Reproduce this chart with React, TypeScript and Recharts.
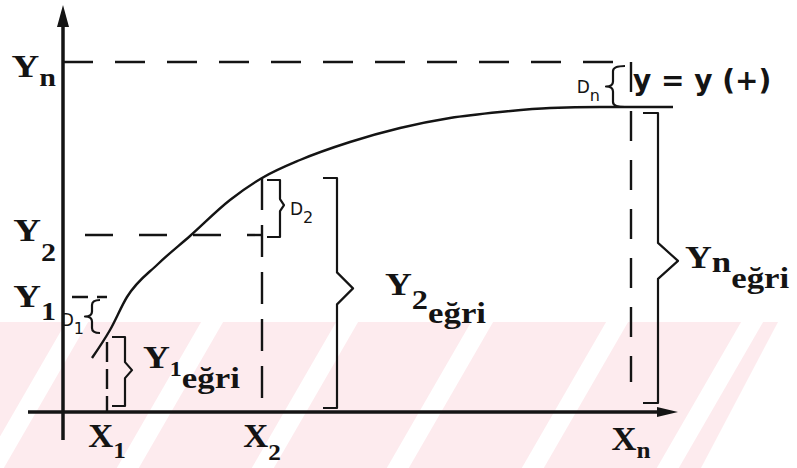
import React from "react";
import {
  ComposedChart,
  Line,
  XAxis,
  YAxis,
  ReferenceLine,
  ReferenceArea,
  ReferenceDot,
} from "recharts";

// ---------------- data ----------------
// the curve ("eğri")
const curveX = [2.9, 4.7, 6.4, 9.5, 12.7, 16.7, 19.9, 23.7, 28.7, 33.7, 38.7, 43.7, 48.7, 53.7, 57.0, 61.0];
const curveY = [5.4, 8.2, 11.5, 14.8, 17.6, 21.2, 23.4, 25.2, 27.0, 28.4, 29.4, 30.0, 30.4, 30.5, 30.5, 30.5];
// X ticks: X1, X2, Xn
const xTickValues = [4.4, 19.9, 56.8];
const xTickSubs = ["1", "2", "n"];
// Y ticks: Y1, Y2, Yn
const yTickValues = [11.5, 17.7, 35.0];
const yTickSubs = ["1", "2", "n"];
// curve value at each X_i  (Y_i eğri)
const curveAtTicks = [7.5, 23.4, 30.5];
const deviationSubs = ["1", "2", "n"]; // D_i
const formulaText = "y = y (+)";

// ---------------- layout / style ----------------
const W = 797;
const H = 468;
const INK = "#141414";
const SERIF = "Liberation Serif, DejaVu Serif, serif";
const SANS = "DejaVu Sans, sans-serif";
const X_DOMAIN: [number, number] = [0, 62];
const Y_DOMAIN: [number, number] = [0, 40];
const AXIS_X_EXT: [number, number] = [-3.5, 61.5];
const AXIS_Y_EXT: [number, number] = [-2.8, 40.7];

type GlyphProps = {
  x?: number;
  y?: number;
  main: string;
  sub?: string;
  tail?: string;
  anchor?: "start" | "middle" | "end";
  family?: string;
  weight?: number | string;
  size?: number;
  subSize?: number;
  subDy?: number;
  tailSize?: number;
  tailDy?: number;
  sx?: number;
};

function Glyphs({
  x = 0,
  y = 0,
  main,
  sub,
  tail,
  anchor = "start",
  family = SERIF,
  weight = 700,
  size = 30,
  subSize = 22,
  subDy = 8,
  tailSize = 28,
  tailDy = 10,
  sx = 1.2,
}: GlyphProps) {
  const st = { fontFamily: family, fontWeight: weight } as React.CSSProperties;
  return (
    <text transform={`translate(${x} ${y}) scale(${sx} 1)`} textAnchor={anchor} style={st} fill={INK}>
      <tspan style={{ ...st, fontSize: size }}>{main}</tspan>
      {sub ? (
        <tspan style={{ ...st, fontSize: subSize }} dy={subDy}>
          {sub}
        </tspan>
      ) : null}
      {tail ? (
        <tspan style={{ ...st, fontSize: tailSize }} dy={tailDy}>
          {tail}
        </tspan>
      ) : null}
    </text>
  );
}

const xTickDy = [35, 35, 38];
const xTickSubDy = [11, 13, 8];
const XTick = (p: any) => {
  const i = xTickValues.indexOf(p.payload.value);
  if (i < 0) return <g />;
  return (
    <Glyphs
      x={p.x}
      y={p.y + xTickDy[i]}
      main="X"
      sub={xTickSubs[i]}
      anchor="middle"
      size={33}
      subSize={24}
      subDy={xTickSubDy[i]}
      sx={1.05}
    />
  );
};

const yTickDy = [10, 6, 15];
const yTickSubDy = [13, 20, 9];
const YTick = (p: any) => {
  const i = yTickValues.indexOf(p.payload.value);
  if (i < 0) return <g />;
  return (
    <Glyphs
      x={p.x - 7}
      y={p.y + yTickDy[i]}
      main="Y"
      sub={yTickSubs[i]}
      anchor="end"
      size={32}
      subSize={25}
      subDy={yTickSubDy[i]}
      sx={1.2}
    />
  );
};

const axisArrow = (dir: "right" | "up") => (p: any) => {
  const { x1, y1, x2, y2 } = p;
  if (dir === "right") {
    const right = Math.max(x1, x2);
    const left = Math.min(x1, x2);
    return (
      <g>
        <line x1={left} y1={y1} x2={right - 12} y2={y1} stroke={INK} strokeWidth={3.5} />
        <polygon points={`${right},${y1} ${right - 21},${y1 - 5} ${right - 21},${y1 + 5}`} fill={INK} />
      </g>
    );
  }
  const top = Math.min(y1, y2);
  const bottom = Math.max(y1, y2);
  return (
    <g>
      <line x1={x1} y1={bottom} x2={x1} y2={top + 12} stroke={INK} strokeWidth={3.5} />
      <polygon points={`${x1},${top} ${x1 - 6},${top + 22} ${x1 + 6},${top + 22}`} fill={INK} />
    </g>
  );
};

const dashed = (dash: string, offset = 0, width = 2.4) => (p: any) => (
  <line
    x1={p.x1}
    y1={p.y1}
    x2={p.x2}
    y2={p.y2}
    stroke={INK}
    strokeWidth={width}
    strokeDasharray={dash}
    strokeDashoffset={offset}
  />
);

type BraceSpec = {
  dir: "right" | "left";
  depth: number;
  k: number;
  tipAt: number;
  label: GlyphProps & { dx: number; dy: number };
};

const braceShape = (spec: BraceSpec) => (p: any) => {
  const { x, y, width: w, height: h } = p;
  const ym = y + h * spec.tipAt;
  let d: string;
  let tx: number;
  if (spec.dir === "right") {
    const t = x + w;
    const s = t - spec.depth;
    d = `M${x},${y} H${s} V${ym - spec.k} L${t},${ym} L${s},${ym + spec.k} V${y + h} H${x}`;
    tx = t;
  } else {
    const t = x;
    const s = x + spec.depth;
    const e = x + w;
    const r = Math.min(5, h / 5);
    d = `M${e},${y} Q${s},${y} ${s},${y + r} V${ym - r} Q${s},${ym} ${t},${ym} Q${s},${ym} ${s},${ym + r} V${y + h - r} Q${s},${y + h} ${e},${y + h}`;
    tx = t;
  }
  const { dx, dy, ...lab } = spec.label;
  return (
    <g>
      <path d={d} fill="none" stroke={INK} strokeWidth={2.2} strokeLinejoin="round" />
      <Glyphs {...lab} x={tx + dx} y={ym + dy} />
    </g>
  );
};

const formulaShape = (p: any) => (
  <text
    x={p.cx + 2}
    y={p.cy + 28}
    style={{ fontFamily: SANS, fontWeight: 700, fontSize: 28 }}
    fill={INK}
  >
    {formulaText}
  </text>
);

function Watermark() {
  return (
    <svg width={W} height={H} style={{ position: "absolute", left: 0, top: 0 }}>
      <defs>
        <pattern
          id="wm"
          patternUnits="userSpaceOnUse"
          x={117}
          y={0}
          width={135}
          height={H}
          patternTransform="skewX(-30)"
        >
          <rect x={0} y={0} width={135} height={H} fill="#fdebee" />
          <rect x={0} y={0} width={22} height={H} fill="#ffffff" />
        </pattern>
        <clipPath id="wmclip">
          <polygon points="0,322 778,322 701,468 0,468" />
        </clipPath>
      </defs>
      <rect x={0} y={322} width={W} height={146} fill="url(#wm)" clipPath="url(#wmclip)" />
    </svg>
  );
}

export default function App() {
  const data = curveX.map((x, i) => ({ x, y: curveY[i] }));
  const [X1, X2, Xn] = xTickValues;
  const [Y1, Y2, Yn] = yTickValues;
  const [C1, C2, Cn] = curveAtTicks;

  const dLabel = (i: number, anchor: "start" | "end", dx: number, dy: number) => ({
    main: "D",
    sub: deviationSubs[i],
    anchor,
    family: SANS,
    weight: 400,
    size: 17,
    subSize: 16,
    subDy: 8,
    sx: 1.0,
    dx,
    dy,
  });
  const yLabel = (i: number, subSize: number, subDy: number, tailDy: number, dx: number, dy: number) => ({
    main: "Y",
    sub: yTickSubs[i],
    tail: "eğri",
    size: 31,
    subSize,
    subDy,
    tailSize: 29,
    tailDy,
    sx: 1.2,
    dx,
    dy,
  });

  return (
    <div style={{ position: "absolute", left: 0, top: 0, width: W, height: H, background: "#fff", overflow: "hidden" }}>
      <Watermark />
      <div style={{ position: "absolute", left: 0, top: 0 }}>
        <ComposedChart width={W} height={H} data={data} margin={{ top: 12, right: 114, bottom: 26, left: 3 }}>
          <XAxis
            type="number"
            dataKey="x"
            domain={X_DOMAIN}
            ticks={xTickValues}
            interval={0}
            height={30}
            axisLine={false}
            tickLine={false}
            tickSize={0}
            tickMargin={0}
            allowDataOverflow
            tick={XTick}
          />
          <YAxis
            type="number"
            domain={Y_DOMAIN}
            ticks={yTickValues}
            interval={0}
            width={60}
            axisLine={false}
            tickLine={false}
            tickSize={0}
            tickMargin={0}
            allowDataOverflow
            tick={YTick}
          />

          {/* axes with arrows */}
          <ReferenceLine
            segment={[{ x: AXIS_X_EXT[0], y: 0 }, { x: AXIS_X_EXT[1], y: 0 }]}
            ifOverflow="visible"
            shape={axisArrow("right")}
          />
          <ReferenceLine
            segment={[{ x: 0, y: AXIS_Y_EXT[0] }, { x: 0, y: AXIS_Y_EXT[1] }]}
            ifOverflow="visible"
            shape={axisArrow("up")}
          />

          {/* dashed guides */}
          <ReferenceLine segment={[{ x: 0, y: Yn }, { x: 55.7, y: Yn }]} ifOverflow="visible" shape={dashed("30 22")} />
          <ReferenceLine segment={[{ x: 0, y: Y2 }, { x: X2, y: Y2 }]} ifOverflow="visible" shape={dashed("28 26", 32)} />
          <ReferenceLine segment={[{ x: 0.9, y: Y1 }, { x: X1, y: Y1 }]} ifOverflow="visible" shape={dashed("16 9 10 40")} />
          <ReferenceLine segment={[{ x: X1, y: C1 - 0.5 }, { x: X1, y: 0 }]} ifOverflow="visible" shape={dashed("20 7")} />
          <ReferenceLine segment={[{ x: X2, y: C2 }, { x: X2, y: 0 }]} ifOverflow="visible" shape={dashed("32 15")} />
          <ReferenceLine segment={[{ x: Xn, y: Yn }, { x: Xn, y: 3.0 }]} ifOverflow="visible" shape={dashed("30 19")} />

          {/* braces */}
          <ReferenceArea
            x1={X1 + 0.5}
            x2={X1 + 2.5}
            y1={0.6}
            y2={C1}
            ifOverflow="visible"
            shape={braceShape({ dir: "right", depth: 7, k: 8, tipAt: 0.48, label: yLabel(0, 20, 8, 12, 11, -2) })}
          />
          <ReferenceArea
            x1={X2 + 6.1}
            x2={X2 + 9.1}
            y1={0.4}
            y2={C2}
            ifOverflow="visible"
            shape={braceShape({ dir: "right", depth: 16, k: 16, tipAt: 0.48, label: yLabel(1, 27, 14, 14, 32, 7) })}
          />
          <ReferenceArea
            x1={Xn + 1.2}
            x2={Xn + 4.7}
            y1={0.9}
            y2={Cn - 0.6}
            ifOverflow="visible"
            shape={braceShape({ dir: "right", depth: 20, k: 18, tipAt: 0.51, label: yLabel(2, 29, 4, 16, 7, 7) })}
          />
          <ReferenceArea
            x1={X2 + 0.5}
            x2={X2 + 2.2}
            y1={Y2 - 0.2}
            y2={C2 - 0.2}
            ifOverflow="visible"
            shape={braceShape({ dir: "right", depth: 4, k: 6, tipAt: 0.44, label: dLabel(1, "start", 6, 10) })}
          />
          <ReferenceArea
            x1={X1 - 2.2}
            x2={X1 - 0.7}
            y1={C1 + 0.4}
            y2={Y1 - 0.3}
            ifOverflow="visible"
            shape={braceShape({ dir: "left", depth: 7, k: 0, tipAt: 0.5, label: dLabel(0, "end", -1, 9) })}
          />
          <ReferenceArea
            x1={Xn - 2.5}
            x2={Xn - 0.6}
            y1={Cn}
            y2={Yn - 0.4}
            ifOverflow="visible"
            shape={braceShape({ dir: "left", depth: 7, k: 0, tipAt: 0.5, label: dLabel(2, "end", -6, 6) })}
          />

          <ReferenceDot x={Xn} y={Yn} ifOverflow="visible" shape={formulaShape} />

          <Line
            dataKey="y"
            type="monotone"
            stroke={INK}
            strokeWidth={2.4}
            dot={false}
            activeDot={false}
            isAnimationActive={false}
          />
        </ComposedChart>
      </div>
    </div>
  );
}
